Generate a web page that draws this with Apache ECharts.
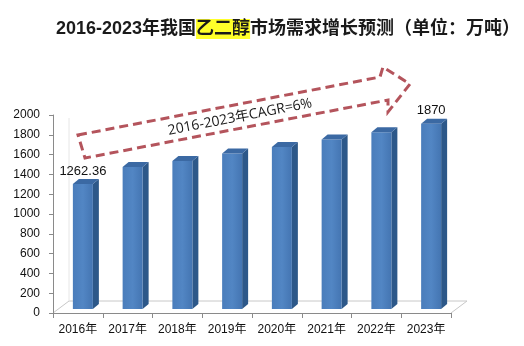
<!DOCTYPE html>
<html><head><meta charset="utf-8">
<script src="https://cdn.jsdelivr.net/npm/echarts@6/dist/echarts.min.js"></script>
<style>html,body{margin:0;padding:0;background:#fff}#c{width:524px;height:346px}</style>
</head><body><div id="c"></div>
<script>
const years = ['2016年','2017年','2018年','2019年','2020年','2021年','2022年','2023年'];
const demand = [1262.36, 1435, 1495, 1570, 1636, 1713, 1786, 1870];
const valueLabels = ['1262.36','','','','','','','1870'];
const yTicks = [0,200,400,600,800,1000,1200,1400,1600,1800,2000];
const titleText = '2016-2023年我国{h|乙二醇}市场需求增长预测（单位：万吨）';
const arrowText = '2016-2023年CAGR=6%';

const chart = echarts.init(document.getElementById('c'), null, {renderer:'canvas'});
const FONT = '"Liberation Sans","Noto Sans CJK SC",sans-serif';

function renderBar(params, api){
  const i = api.value(0), v = api.value(1);
  const top = api.coord([i, v]);
  const base = api.coord([i, 0]);
  const c = top[0];
  const yT = top[1] - 4, yB = base[1] - 4;
  const x0 = c - 5, x1 = c + 15, dx = 6, dy = 5;
  const children = [
    {type:'polygon', shape:{points:[[x1,yT],[x1+dx,yT-dy],[x1+dx,yB-dy],[x1,yB]]},
     style:{fill:'#2d5889'}},
    {type:'rect', shape:{x:x0,y:yT,width:x1-x0,height:yB-yT},
     style:{fill:new echarts.graphic.LinearGradient(0,0,1,0,[{offset:0,color:'#4a7dbb'},{offset:0.5,color:'#5286c4'},{offset:1,color:'#4475b2'}])}},
    {type:'polygon', shape:{points:[[x0,yT],[x1,yT],[x1+dx,yT-dy],[x0+dx,yT-dy]]},
     style:{fill:'#3b69a3'}}
  ];
  const lbl = valueLabels[params.dataIndex];
  if (lbl) {
    children.push({type:'text', style:{text:lbl, x:c+5, y:yT-13, align:'center', verticalAlign:'middle',
      fill:'#111', font:'13px '+FONT}});
  }
  return {type:'group', children};
}

chart.setOption({
  animation:false,
  backgroundColor:'#fff',
  title:{
    text:titleText, left:51, top:14,
    textStyle:{fontSize:18, fontWeight:'bold', color:'#1a1a1a', fontFamily:FONT,
      rich:{h:{fontSize:18, fontWeight:'bold', color:'#1a1a1a', fontFamily:FONT, backgroundColor:'#ffff2a', padding:[1,0,1,0]}}}
  },
  grid:{left:53, right:73, top:115, bottom:33},
  xAxis:{
    type:'category', data:years, boundaryGap:true,
    axisLine:{lineStyle:{color:'#8a8a8a', width:1}},
    axisTick:{show:true, length:5, interval:0, lineStyle:{color:'#8a8a8a'}},
    axisLabel:{color:'#111', fontSize:12, margin:11, interval:0, fontFamily:FONT}
  },
  yAxis:{
    type:'value', min:yTicks[0], max:yTicks[yTicks.length-1], interval:200,
    axisLine:{show:true, lineStyle:{color:'#8a8a8a'}},
    axisTick:{show:true, length:4, lineStyle:{color:'#8a8a8a'}},
    splitLine:{show:false},
    axisLabel:{color:'#111', fontSize:12, margin:13, fontFamily:FONT, formatter:(v)=>String(v)}
  },
  graphic:[
    {type:'polyline', shape:{points:[[53,313],[69,301],[467,301],[451,313]]},
     style:{stroke:'#c8c8c8', lineWidth:1, fill:null}, z:-1},
    {type:'line', shape:{x1:69,y1:301,x2:69,y2:118}, style:{stroke:'#e6e6e6', lineWidth:1}, z:-1},
    {type:'polygon',
     shape:{points:[[78,135],[380,77],[383,67],[410,84],[388,112],[388,100],[85,158]]},
     style:{fill:null, stroke:'#b4545c', lineWidth:3, lineDash:[9,5]}},
    {type:'text', x:240, y:117, rotation:11*Math.PI/180,
     style:{text:arrowText, align:'center', verticalAlign:'middle', fill:'#1a1a1a', font:'14px "Open Sans","Noto Sans CJK SC",sans-serif'}}
  ],
  series:[{
    type:'custom', renderItem:renderBar,
    data: demand.map((v,i)=>[i,v]),
    encode:{x:0, y:1}
  }]
});
</script></body></html>
